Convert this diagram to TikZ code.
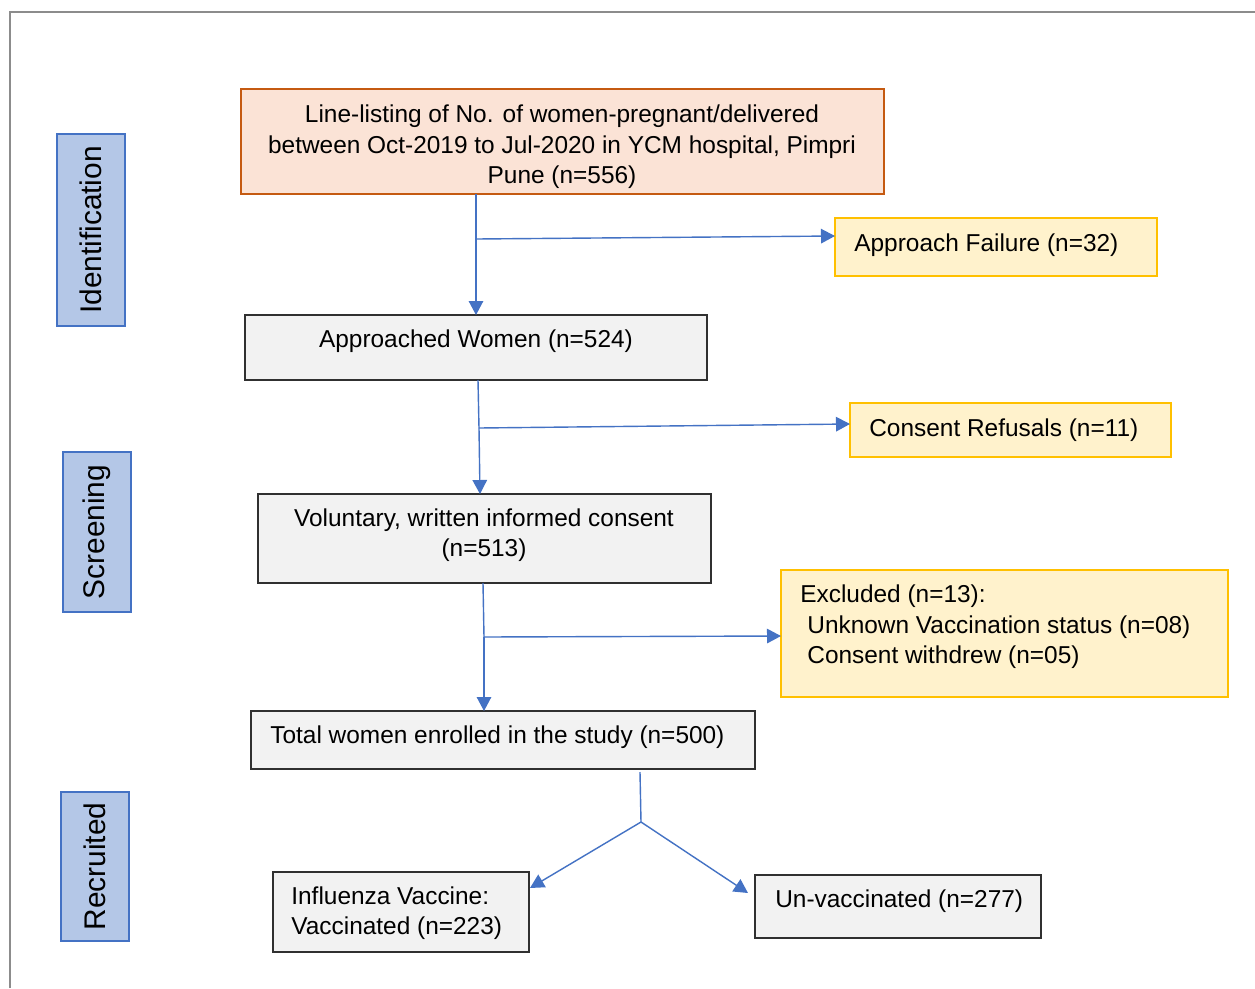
\documentclass[tikz,border=0pt]{standalone}
\usepackage{fontspec}
\setmainfont{Liberation Sans}
\usetikzlibrary{arrows.meta,fit}
\definecolor{peach}{HTML}{FBE3D6}
\definecolor{rust}{HTML}{C55A11}
\definecolor{lyel}{HTML}{FFF2CC}
\definecolor{gold}{HTML}{FFC000}
\definecolor{lgray}{HTML}{F2F2F2}
\definecolor{dgray}{HTML}{303030}
\definecolor{lblue}{HTML}{B4C7E7}
\definecolor{mblue}{HTML}{4472C4}
\definecolor{framec}{HTML}{8C8C8C}
\tikzset{
  boxbase/.style={inner sep=0pt, outer sep=0pt},
  orangebox/.style={boxbase, draw=rust, fill=peach, line width=1.4pt},
  yellowbox/.style={boxbase, draw=gold, fill=lyel, line width=0.9pt},
  graybox/.style={boxbase, draw=dgray, fill=lgray, line width=0.75pt},
  sidebox/.style={boxbase, draw=mblue, fill=lblue, line width=1.6pt},
  txt/.style={inner sep=0pt, font=\fontsize{13.9pt}{17.4pt}\selectfont},
  sidetxt/.style={inner sep=0pt, rotate=90, font=\fontsize{17pt}{19pt}\selectfont},
  arr/.style={draw=mblue, line width=0.8pt, -{Triangle[length=0.28cm,width=0.29cm]}},
  ln/.style={draw=mblue, line width=0.8pt},
}
\begin{document}
\begin{tikzpicture}[x=0.02cm,y=-0.02cm]
\useasboundingbox (0,0) rectangle (1255,988);
\fill[white] (0,0) rectangle (1255,988);
% frame
\draw[framec, line width=0.8pt] (10,988) -- (10,12) -- (1255,12);

% side labels
\node[sidebox, fit={(57,134)(125,326)}] (sid) {};
\node[sidetxt] (sidt) at (sid.center) {Identification};
\node[sidebox, fit={(63,452)(131,612)}] (sscr) {};
\node[sidetxt] (sscrt) at (sscr.center) {Screening};
\node[sidebox, fit={(61,792)(129,941)}] (srec) {};
\node[sidetxt] (srect) at (srec.center) {Recruited};

% main boxes
\node[orangebox, fit={(241,89)(884,194)}] (top) {};
\node[txt, align=center] (topt) at (562,147) {Line-listing of No. of women-pregnant/delivered\\between Oct-2019 to Jul-2020 in YCM hospital, Pimpri\\Pune (n=556)};

\node[yellowbox, fit={(835,218)(1157,276)}] (af) {};
\node[txt, anchor=west] (aft) at (854,245) {Approach Failure (n=32)};

\node[graybox, fit={(245,315)(707,380)}] (aw) {};
\node[txt] (awt) at (476,341) {Approached Women (n=524)};

\node[yellowbox, fit={(850,403)(1171,457)}] (cr) {};
\node[txt, anchor=west] (crt) at (869,430) {Consent Refusals (n=11)};

\node[graybox, fit={(258,494)(711,583)}] (vc) {};
\node[txt, align=center] (vct) at (484,535) {Voluntary, written informed consent\\(n=513)};

\node[yellowbox, fit={(781,570)(1228,697)}] (ex) {};
\node[txt, align=left, anchor=west] (ext) at (800,627) {Excluded (n=13):\\\hspace*{4pt}Unknown Vaccination status (n=08)\\\hspace*{4pt}Consent withdrew (n=05)};

\node[graybox, fit={(251,711)(755,769)}] (te) {};
\node[txt, anchor=west] (tet) at (270,737) {Total women enrolled in the study (n=500)};

\node[graybox, fit={(273,872)(529,952)}] (fv) {};
\node[txt, align=left, anchor=west] (fvt) at (291,913) {Influenza Vaccine:\\Vaccinated (n=223)};

\node[graybox, fit={(755,875)(1041,938)}] (uv) {};
\node[txt, anchor=west] (uvt) at (775,901) {Un-vaccinated (n=277)};

% connectors
\coordinate (b1) at (476,239);
\coordinate (b2) at (479,428);
\coordinate (b3) at (484,637);
\coordinate (b4) at (641,822);
\draw[arr] (top.south -| 476,0) -- (aw.north -| 476,0);
\draw[arr] (b1) -- (835,236);
\draw[ln] (478,380) -- (b2);
\draw[arr] (b2) -- (480,494);
\draw[arr] (b2) -- (850,424);
\draw[ln] (483,583) -- (b3);
\draw[arr] (b3) -- (484,711);
\draw[arr] (b3) -- (781,636);
\draw[ln] (640,772) -- (b4);
\draw[arr] (b4) -- (530,888);
\draw[arr] (b4) -- (748,893);
\end{tikzpicture}
\end{document}
